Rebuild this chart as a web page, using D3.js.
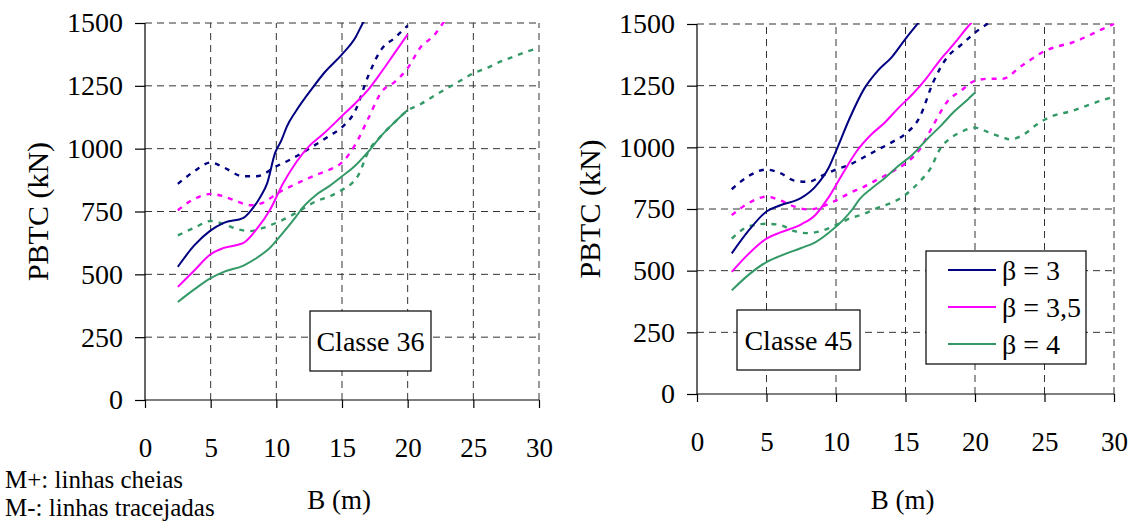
<!DOCTYPE html>
<html><head><meta charset="utf-8">
<script src="https://cdn.jsdelivr.net/npm/d3@7"></script>
<style>
body{margin:0;background:#fff;}
</style></head>
<body>
<svg id="c" width="1139" height="521"></svg>
<script>
// ---------- data ----------
const xTicks = [0,5,10,15,20,25,30];
const yTicks = [0,250,500,750,1000,1250,1500];
const betaLabels = ["β = 3","β = 3,5","β = 4"];
const seriesColors = ["#000080","#FF00FF","#339966"];

// Classe 36, M+ (solid)
const c36_b3_plus  = [[2.5,530],[3.75,615],[5,675],[6,705],[7.5,725],[8.1,756],[8.8,810],[9.3,862],[9.9,982],[10.4,1035],[10.8,1088],[11.5,1150],[12.8,1245],[13.7,1305],[15,1375],[16,1440],[16.6,1500],[17,1530]];
const c36_b35_plus = [[2.5,450],[3.75,515],[5,580],[6,605],[7.5,625],[8.5,680],[9.5,755],[10.5,860],[11.5,945],[12.5,1010],[13.5,1055],[15,1130],[16,1180],[17,1235],[18,1305],[19,1380],[20,1455]];
const c36_b4_plus  = [[2.5,390],[3.75,440],[5,485],[6,510],[7.5,535],[8.5,565],[9.5,605],[10.5,665],[11.5,730],[12,765],[13,815],[14,850],[15,890],[16,932],[17,988],[18,1052],[19,1105],[20,1154]];
// Classe 36, M- (dashed)
const c36_b3_minus  = [[2.5,860],[3.75,910],[5,945],[6,925],[7.5,890],[8.5,890],[10,930],[11,955],[12.5,1000],[14,1050],[15,1085],[16,1150],[17,1290],[18,1395],[19,1440],[20,1490]];
const c36_b35_minus = [[2.5,755],[3.75,800],[5,820],[6,810],[7,790],[8,775],[9,785],[10,820],[11.5,860],[13,895],[14,915],[15,945],[16,1015],[17,1120],[18,1225],[19,1265],[20,1320],[21,1405],[22,1450],[22.7,1500],[23,1520]];
const c36_b4_minus  = [[2.5,655],[3.75,685],[5,712],[6,700],[7,680],[8,672],[9,685],[10,705],[11,730],[12,760],[13,790],[14,809],[15,836],[15.6,855],[16.25,895],[17,988],[18,1052],[19,1105],[20,1152],[21,1178],[22,1210],[23,1240],[24,1270],[25,1300],[26,1320],[27,1345],[28,1365],[29,1385],[30,1400]];

// Classe 45, M+ (solid)
const c45_b3_plus  = [[2.5,570],[3.75,665],[5,740],[6,765],[7.5,795],[8.5,840],[9.5,920],[10,985],[11,1120],[12,1235],[13,1310],[14,1365],[15,1440],[16,1510]];
const c45_b35_plus = [[2.5,495],[3.75,570],[5,630],[6,655],[7.5,688],[8.5,725],[9.5,800],[10.5,895],[11.5,985],[12.5,1050],[13.5,1100],[14.5,1160],[15.5,1215],[16.5,1280],[17.5,1355],[18.5,1420],[19.5,1490],[20,1520]];
const c45_b4_plus  = [[2.5,420],[3.75,485],[5,535],[6,560],[7.5,592],[8.5,615],[9.5,655],[10.5,705],[11.2,750],[11.7,790],[12.6,835],[13.5,875],[14.5,925],[15.5,970],[16.5,1030],[17.5,1085],[18.5,1145],[19.5,1195],[20,1222]];
// Classe 45, M- (dashed)
const c45_b3_minus  = [[2.5,830],[3.75,885],[5,910],[6,895],[7,865],[8,860],[9,885],[10,910],[11,930],[12,960],[13,990],[14,1020],[15,1055],[16,1120],[17,1265],[18,1365],[19,1415],[20,1465],[21,1505]];
const c45_b35_minus = [[2.5,725],[3.75,775],[5,800],[6,785],[7,760],[8,748],[9,760],[10,785],[11,815],[12,840],[13,870],[14,900],[15,935],[16,990],[17,1090],[18,1185],[19,1230],[20,1270],[21,1278],[22,1278],[22.5,1290],[23,1315],[24,1355],[25,1390],[26,1410],[27,1425],[28,1448],[29,1475],[30,1500]];
const c45_b4_minus  = [[2.5,630],[3.75,680],[5,690],[6,685],[7,660],[8,652],[9,662],[10,685],[11,712],[12,730],[13,755],[14,775],[15,808],[16,860],[16.8,915],[17.5,995],[18.2,1036],[19,1062],[20,1080],[21,1060],[22,1040],[22.5,1032],[23.5,1052],[24.5,1095],[25.5,1125],[27,1148],[28,1168],[29,1188],[30,1205]];

const classLabels = ["Classe 36","Classe 45"];

// ---------- drawing ----------
const FONT = "'Liberation Serif', 'Times New Roman', 'DejaVu Serif', 'Noto Serif', serif";
const svg = d3.select("#c");

function txt(sel, size){
  return sel.style("font-family",FONT).style("font-size",size+"px").attr("fill","#000");
}

function drawChart(cfg){
  const x = d3.scaleLinear().domain([0,30]).range([cfg.x0,cfg.x1]);
  const y = d3.scaleLinear().domain([0,1500]).range([cfg.y0,cfg.y1]);
  const g = svg.append("g");

  // gridlines
  g.selectAll(".hg").data(yTicks.filter(d=>d>0)).enter().append("line")
    .attr("x1",x(0)).attr("x2",x(30)).attr("y1",d=>y(d)).attr("y2",d=>y(d))
    .attr("stroke","#333").attr("stroke-width",1).attr("stroke-dasharray","7,5");
  g.selectAll(".vg").data(xTicks.filter(d=>d>0)).enter().append("line")
    .attr("y1",y(0)).attr("y2",y(1500)).attr("x1",d=>x(d)).attr("x2",d=>x(d))
    .attr("stroke","#333").attr("stroke-width",1).attr("stroke-dasharray","7,5");

  // axes
  const ya = d3.axisLeft(y).tickValues(yTicks).tickSize(10).tickPadding(12).tickFormat(d3.format("d"));
  const yg = g.append("g").attr("transform",`translate(${x(0)},0)`).call(ya);
  const xa = d3.axisBottom(x).tickValues(xTicks).tickSize(8).tickPadding(30).tickFormat(d3.format("d"));
  const xg = g.append("g").attr("transform",`translate(0,${y(0)})`).call(xa);
  [yg,xg].forEach(a=>{
    a.attr("font-family",null).attr("font-size",null);
    a.select(".domain").attr("stroke","#000").attr("stroke-width",1.2);
    a.selectAll(".tick line").attr("stroke","#000").attr("stroke-width",1.2);
  });
  txt(yg.selectAll("text"),28);
  txt(xg.selectAll("text"),27);
  xg.select(".domain").attr("d",`M${x(0)},0H${x(30)}`);
  yg.select(".domain").attr("d",`M0,${y(0)}V${y(1500)}`);

  // clip
  const cid = "clip"+cfg.id;
  svg.append("clipPath").attr("id",cid).append("rect")
    .attr("x",x(0)).attr("y",y(1500)-1).attr("width",x(30)-x(0)+2).attr("height",y(0)-y(1500)+1);

  const line = d3.line().x(d=>x(d[0])).y(d=>y(d[1])).curve(d3.curveMonotoneX);
  const lg = g.append("g").attr("clip-path",`url(#${cid})`);
  cfg.minus.forEach((s,i)=>{
    lg.append("path").attr("d",line(s)).attr("fill","none")
      .attr("stroke",seriesColors[i]).attr("stroke-width",2.4).attr("stroke-dasharray","5,6");
  });
  cfg.plus.forEach((s,i)=>{
    lg.append("path").attr("d",line(s)).attr("fill","none")
      .attr("stroke",seriesColors[i]).attr("stroke-width",2);
  });

  // class box
  const b = cfg.box;
  g.append("rect").attr("x",b[0]).attr("y",b[1]).attr("width",b[2]).attr("height",b[3])
    .attr("fill","#fff").attr("stroke","#000").attr("stroke-width",1.2);
  txt(g.append("text").attr("x",b[0]+b[2]/2).attr("y",b[1]+b[3]/2+10).attr("text-anchor","middle"),28)
    .text(cfg.label);

  // axis titles
  txt(g.append("text").attr("transform",`translate(${cfg.ytX},${(y(0)+y(1500))/2}) rotate(-90)`)
    .attr("text-anchor","middle"),30).text("PBTC (kN)");
  txt(g.append("text").attr("x",x(15)-3).attr("y",509).attr("text-anchor","middle"),27).text("B (m)");
  return {x,y,g};
}

drawChart({id:"L",x0:145,x1:539,y0:400,y1:23,ytX:48,
  plus:[c36_b3_plus,c36_b35_plus,c36_b4_plus],
  minus:[c36_b3_minus,c36_b35_minus,c36_b4_minus],
  box:[310,311,121,60],label:classLabels[0]});

drawChart({id:"R",x0:697,x1:1114,y0:394,y1:24,ytX:600,
  plus:[c45_b3_plus,c45_b35_plus,c45_b4_plus],
  minus:[c45_b3_minus,c45_b35_minus,c45_b4_minus],
  box:[737,310,123,60],label:classLabels[1]});

// legend
const lgd = svg.append("g");
lgd.append("rect").attr("x",926).attr("y",251).attr("width",160).attr("height",113)
  .attr("fill","#fff").attr("stroke","#000").attr("stroke-width",1.2);
betaLabels.forEach((t,i)=>{
  const yy = 270 + i*37;
  lgd.append("line").attr("x1",948).attr("x2",996).attr("y1",yy).attr("y2",yy)
    .attr("stroke",seriesColors[i]).attr("stroke-width",2);
  txt(lgd.append("text").attr("x",1002).attr("y",yy+10),28).text(t);
});

// notes
txt(svg.append("text").attr("x",5).attr("y",488),25).text("M+: linhas cheias");
txt(svg.append("text").attr("x",5).attr("y",516),25).text("M-: linhas tracejadas");
</script>
</body></html>
